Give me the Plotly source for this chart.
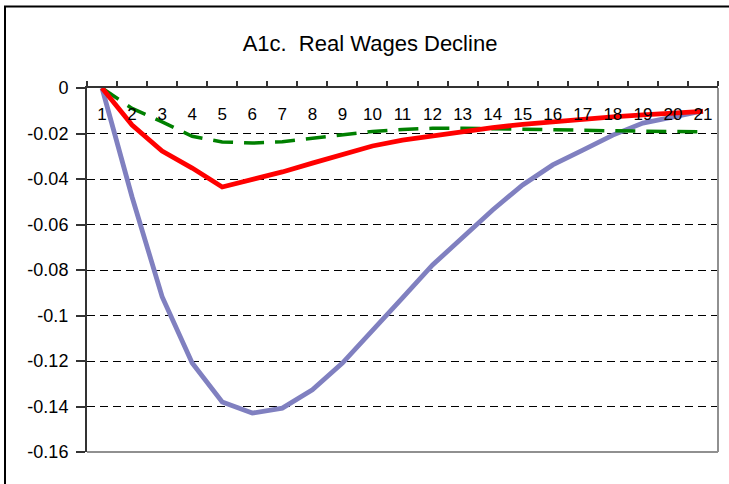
import plotly.graph_objects as go

periods = [str(i) for i in range(1, 22)]

red_series = [0, -0.0163, -0.0277, -0.0352, -0.0435, -0.0404, -0.0369, -0.0330, -0.0290,
              -0.0255, -0.0229, -0.0210, -0.0193, -0.0174, -0.0160, -0.0148, -0.0137,
              -0.0127, -0.0118, -0.0111, -0.0103]
green_series = [0, -0.0090, -0.0149, -0.0212, -0.0237, -0.0242, -0.0236, -0.0222, -0.0205,
                -0.0191, -0.0182, -0.0177, -0.0177, -0.0178, -0.0180, -0.0183, -0.0186,
                -0.0189, -0.0190, -0.0191, -0.0192]
purple_series = [0, -0.0479, -0.0917, -0.1209, -0.1380, -0.1429, -0.1407, -0.1327, -0.1209,
                 -0.1068, -0.0923, -0.0778, -0.0659, -0.0536, -0.0426, -0.0338, -0.0273,
                 -0.0207, -0.0154, -0.0127, -0.0101]

y_ticks = [0, -0.02, -0.04, -0.06, -0.08, -0.1, -0.12, -0.14, -0.16]
y_tick_text = ["0", "-0.02", "-0.04", "-0.06", "-0.08", "-0.1", "-0.12", "-0.14", "-0.16"]

FONT = "Arial, 'Liberation Sans', sans-serif"

fig = go.Figure()
fig.add_trace(go.Scatter(x=periods, y=purple_series, mode="lines",
                         line=dict(color="#8080C0", width=4.8), showlegend=False))
fig.add_trace(go.Scatter(x=periods, y=green_series, mode="lines",
                         line=dict(color="#008000", width=3.5, dash="20px,11px"), showlegend=False))
fig.add_trace(go.Scatter(x=periods, y=red_series, mode="lines",
                         line=dict(color="#FF0000", width=4.8), showlegend=False))
# carrier for the category-label axis (draws nothing)
fig.add_trace(go.Scatter(x=periods, y=red_series, mode="none", xaxis="x2",
                         showlegend=False, hoverinfo="skip"))

L, R, T, B = 87, 11, 88, 32
W, H = 729, 484
pw, ph = W - L - R, H - T - B

def px_x(x):
    return (x - L) / pw

def px_y(y):
    return (H - B - y) / ph

fig.update_layout(
    width=W, height=H,
    margin=dict(l=L, r=R, t=T, b=B, pad=0),
    paper_bgcolor="white", plot_bgcolor="white",
    font=dict(family=FONT, size=18, color="black"),
    title=dict(text="A1c.  Real Wages Decline", x=370 / W, xanchor="center",
               y=1 - 43 / H, yanchor="middle", xref="container", yref="container",
               font=dict(size=22, family=FONT, color="black")),
    xaxis=dict(type="category", side="top", showgrid=False, zeroline=False,
               showline=True, linecolor="#333333", linewidth=2,
               ticks="outside", tickson="boundaries", ticklen=5, tickcolor="#333333",
               tickwidth=1.5, showticklabels=False, range=[-0.5, 20.5]),
    xaxis2=dict(type="category", overlaying="x", side="bottom", anchor="free",
                position=px_y(102), showgrid=False, zeroline=False, showline=False,
                ticks="", showticklabels=True, tickfont=dict(size=17, family=FONT),
                range=[-0.5, 20.5]),
    yaxis=dict(range=[-0.16, 0], tickvals=y_ticks, ticktext=y_tick_text,
               showgrid=True, gridcolor="black", gridwidth=1, griddash="8px,5px",
               zeroline=False, showline=True, linecolor="#333333", linewidth=2,
               ticks="outside", ticklen=9, tickcolor="#333333", tickwidth=1.5,
               ticklabelstandoff=4, tickfont=dict(size=18, family=FONT)),
    shapes=[
        dict(type="line", xref="paper", yref="paper", x0=1, x1=1, y0=0, y1=1,
             line=dict(color="#909090", width=2)),
        dict(type="line", xref="paper", yref="paper", x0=0, x1=1, y0=0, y1=0,
             line=dict(color="#909090", width=2)),
        dict(type="rect", xref="paper", yref="paper",
             x0=px_x(5), x1=px_x(740), y0=px_y(495), y1=px_y(6.5),
             line=dict(color="black", width=2), fillcolor="rgba(0,0,0,0)"),
    ],
)

fig.write_html("out.html", config={"displayModeBar": False},
               post_script="document.body.style.margin='0px';")
